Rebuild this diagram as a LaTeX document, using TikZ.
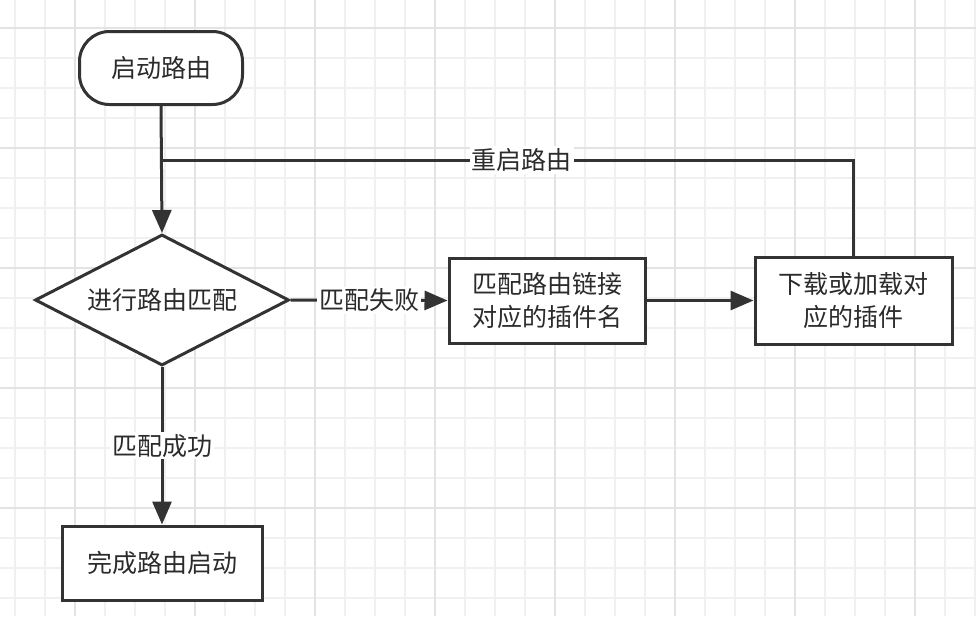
\documentclass[tikz,border=0pt]{standalone}
\usepackage{fontspec}
\setmainfont{Noto Sans CJK SC}
\usetikzlibrary{shapes.geometric,arrows.meta}
\definecolor{gridlight}{HTML}{F0F0F0}
\definecolor{griddark}{HTML}{E3E3E3}
\definecolor{ink}{HTML}{333333}
\begin{document}
\begin{tikzpicture}[x=1pt,y=-1pt,
  every node/.style={font=\fontsize{25}{33}\selectfont, text=ink!85!black},
  boxstyle/.style={draw=ink, line width=3pt, fill=white, rectangle, inner sep=0pt, align=center},
  conn/.style={draw=ink, line width=3pt},
  arr/.style={conn, -{Triangle[length=23pt,width=19pt]}},
  lbl/.style={fill=white, inner sep=2pt}
]
\useasboundingbox (0,0) rectangle (976,616);
\fill[white] (0,0) rectangle (976,616);
% grid
\foreach \x in {15,45,...,975} \draw[gridlight, line width=1.5pt] (\x,0) -- (\x,616);
\foreach \y in {28,58,...,616} \draw[gridlight, line width=1.5pt] (0,\y) -- (976,\y);
\foreach \x in {75,195,...,975} \draw[griddark, line width=1.5pt] (\x,0) -- (\x,616);
\foreach \y in {28,148,...,616} \draw[griddark, line width=1.5pt] (0,\y) -- (976,\y);

% nodes
\node[boxstyle, rounded corners=30pt, minimum width=163pt, minimum height=73pt] (start) at (161,68) {启动路由};
\node[boxstyle, diamond, shape aspect=2, minimum width=254pt, minimum height=131pt] (match) at (162,300) {进行路由匹配};
\node[boxstyle, minimum width=196pt, minimum height=85pt] (link) at (547,300.5) {匹配路由链接\\对应的插件名};
\node[boxstyle, minimum width=197pt, minimum height=87pt] (load) at (853.5,300.5) {下载或加载对\\应的插件};
\node[boxstyle, minimum width=200pt, minimum height=74pt] (done) at (162,563) {完成路由启动};
\coordinate (join) at (162,160);

% connectors
\draw[arr] (start.south) -- (match.north);
\draw[conn] (load.north) |- (join) node[lbl, pos=0.74] {重启路由};
\draw[arr] (match.east) -- node[lbl] {匹配失败} (link.west);
\draw[arr] (link.east) -- (load.west);
\draw[arr] (match.south) -- node[lbl] {匹配成功} (done.north);
\end{tikzpicture}
\end{document}
